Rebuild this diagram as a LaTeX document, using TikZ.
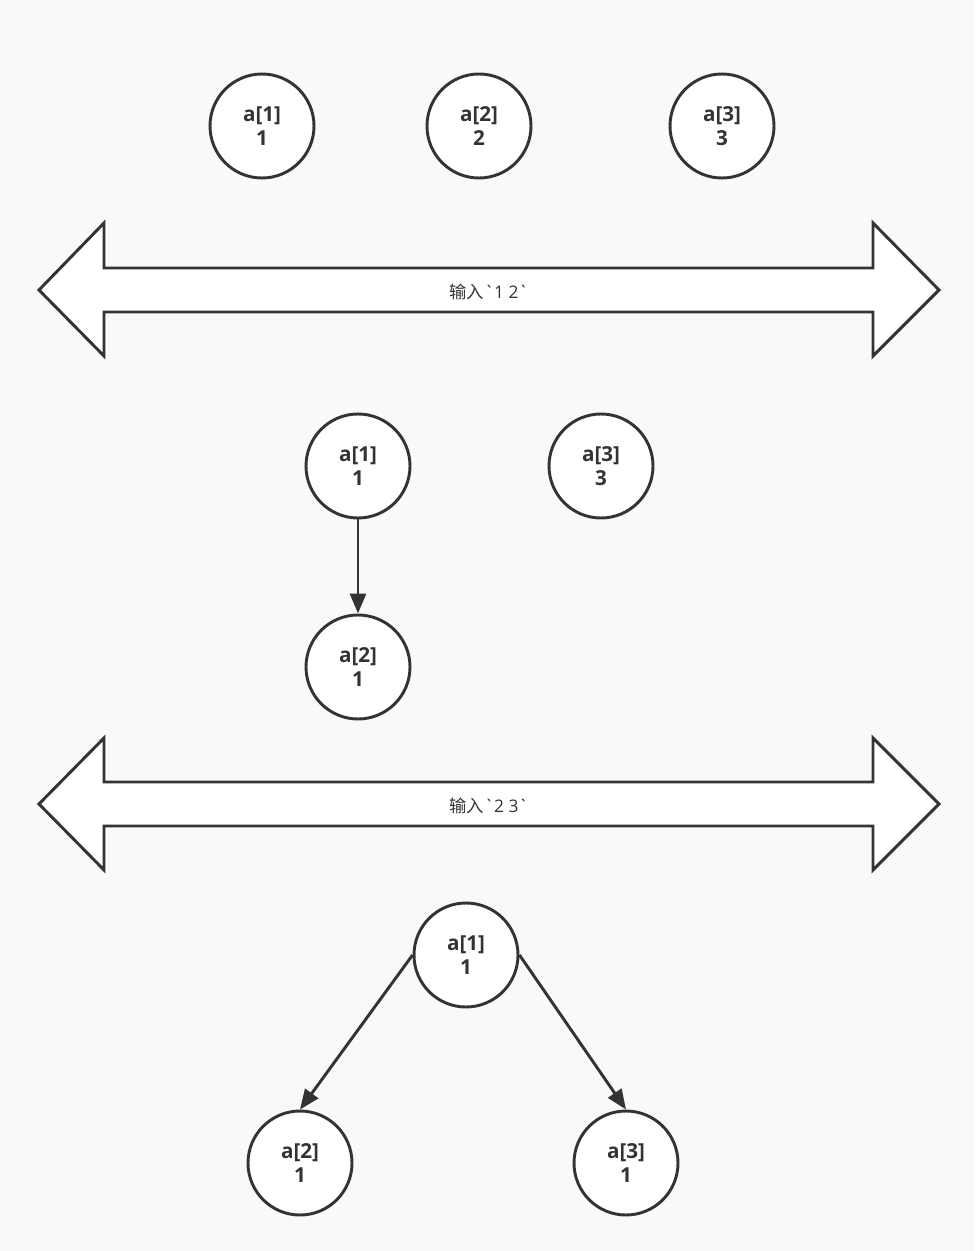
\documentclass[tikz,border=0pt]{standalone}
\usepackage{fontspec}
\newfontfamily\lblfont{Open Sans}
\newfontfamily\cjk{Noto Sans CJK SC}
\usepackage{xcolor}
\usetikzlibrary{arrows.meta}
\definecolor{ink}{HTML}{333333}
\definecolor{paper}{HTML}{F9F9F9}

\tikzset{
  elem/.style={circle,draw=ink,fill=white,line width=2.2pt,minimum size=104*0.75pt,inner sep=0pt,
    align=center,font=\lblfont\bfseries\fontsize{15.5}{17.5}\selectfont,text=ink},
  link/.style={draw=ink,line width=2.2pt,-{Triangle[length=15pt,width=12pt]}},
  band/.style={draw=ink,fill=white,line width=2.2pt},
  step label/.style={font=\fontsize{13}{15}\selectfont,text=ink}
}

\begin{document}
\begin{tikzpicture}[x=0.75pt,y=-0.75pt]
\fill[paper] (0,0) rectangle (975,1251);
\useasboundingbox (0,0) rectangle (975,1251);

% start
\node[elem] (s1) at (262,126) {a[1]\\1};
\node[elem] (s2) at (479,126) {a[2]\\2};
\node[elem] (s3) at (722,126) {a[3]\\3};

% input 1 2
\draw[band] (39,290) -- (104,223) -- (104,268) -- (873,268) -- (873,223) -- (939,290)
  -- (873,356) -- (873,312) -- (104,312) -- (104,356) -- cycle;
\node[step label] (in12) at (489,292) {{\cjk 输入}{\lblfont\symbol{96}1 2\symbol{96}}};

% after 1 2
\node[elem] (m1) at (358,466) {a[1]\\1};
\node[elem] (m3) at (601,466) {a[3]\\3};
\node[elem] (m2) at (358,667) {a[2]\\1};
\draw[link] (m1) -- (m2);

% input 2 3
\draw[band] (39,804) -- (104,738) -- (104,782) -- (873,782) -- (873,738) -- (939,804)
  -- (873,870) -- (873,826) -- (104,826) -- (104,870) -- cycle;
\node[step label] (in23) at (489,806) {{\cjk 输入}{\lblfont\symbol{96}2 3\symbol{96}}};

% after 2 3
\node[elem] (e1) at (466,955) {a[1]\\1};
\node[elem] (e2) at (300,1163) {a[2]\\1};
\node[elem] (e3) at (626,1163) {a[3]\\1};
\draw[link] (e1.west) -- (e2.north);
\draw[link] (e1.east) -- (e3.north);
\end{tikzpicture}
\end{document}
